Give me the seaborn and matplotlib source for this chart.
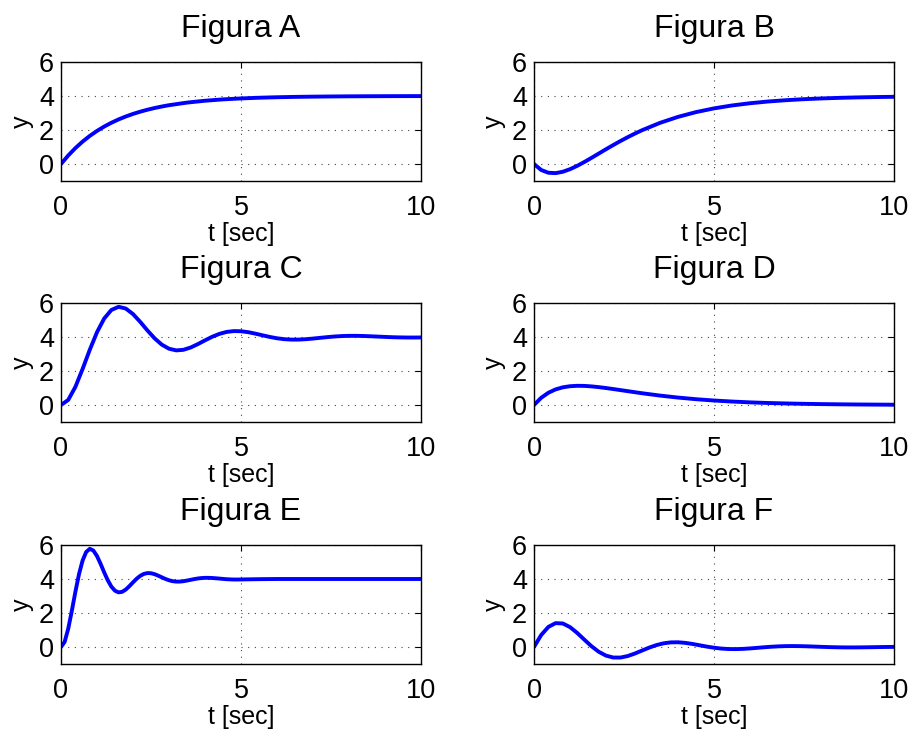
import numpy as np
import pandas as pd
import matplotlib
matplotlib.use('Agg')
import matplotlib.pyplot as plt
import seaborn as sns

# time grids (s)
t_slow = [0.0, 0.2, 0.4, 0.6, 0.8, 1.0, 1.2, 1.4, 1.6, 1.8, 2.0, 2.2, 2.4, 2.6, 2.8, 3.0,
          3.5, 4.0, 4.5, 5.0, 5.5, 6.0, 6.5, 7.0, 7.5, 8.0, 8.5, 9.0, 9.5, 10.0]
t_osc = [round(0.2 * k, 1) for k in range(51)]
t_fast = [round(0.1 * k, 1) for k in range(51)] + [5.5, 6.0, 6.5, 7.0, 7.5, 8.0, 8.5, 9.0, 9.5, 10.0]

# values
y_a = [0.0, 0.499, 0.936, 1.319, 1.654, 1.946, 2.203, 2.427, 2.623, 2.795, 2.946, 3.077,
       3.192, 3.293, 3.381, 3.459, 3.612, 3.722, 3.801, 3.857, 3.898, 3.927, 3.948, 3.962,
       3.973, 3.981, 3.986, 3.990, 3.993, 3.995]
y_b = [0.0, -0.353, -0.515, -0.536, -0.456, -0.306, -0.108, 0.120, 0.365, 0.616, 0.868,
       1.113, 1.350, 1.574, 1.787, 1.985, 2.420, 2.772, 3.052, 3.272, 3.443, 3.574, 3.676,
       3.753, 3.813, 3.858, 3.892, 3.918, 3.938, 3.953]
y_c = [0.0, 0.296, 1.068, 2.120, 3.250, 4.283, 5.088, 5.591, 5.776, 5.673, 5.349, 4.891,
       4.388, 3.921, 3.550, 3.311, 3.213, 3.246, 3.381, 3.580, 3.803, 4.014, 4.184, 4.298,
       4.348, 4.339, 4.284, 4.197, 4.099, 4.004, 3.925, 3.872, 3.847, 3.848, 3.870, 3.908,
       3.951, 3.994, 4.030, 4.055, 4.068, 4.068, 4.059, 4.043, 4.024, 4.005, 3.988, 3.977,
       3.970, 3.969, 3.973]
y_d = [0.0, 0.425, 0.721, 0.918, 1.040, 1.105, 1.129, 1.123, 1.094, 1.051, 0.998, 0.939,
       0.877, 0.815, 0.753, 0.692, 0.554, 0.437, 0.341, 0.264, 0.203, 0.155, 0.119, 0.091,
       0.069, 0.052, 0.040, 0.030, 0.023, 0.017]
y_e = [0.0, 0.296, 1.068, 2.120, 3.250, 4.283, 5.088, 5.591, 5.776, 5.673, 5.349, 4.891,
       4.388, 3.921, 3.550, 3.311, 3.213, 3.246, 3.381, 3.580, 3.803, 4.014, 4.184, 4.298,
       4.348, 4.339, 4.284, 4.197, 4.099, 4.004, 3.925, 3.872, 3.847, 3.848, 3.870, 3.908,
       3.951, 3.994, 4.030, 4.055, 4.068, 4.068, 4.059, 4.043, 4.024, 4.005, 3.988, 3.977,
       3.970, 3.969, 3.973, 3.99, 4.0, 4.0, 4.0, 4.0, 4.0, 4.0, 4.0, 4.0, 4.0]
y_f = [0.0, 0.706, 1.183, 1.404, 1.384, 1.170, 0.827, 0.428, 0.040, -0.283, -0.508, -0.619,
       -0.621, -0.534, -0.386, -0.210, -0.036, 0.112, 0.217, 0.272, 0.278, 0.243, 0.180,
       0.102, 0.024, -0.043, -0.092, -0.119, -0.124, -0.111, -0.084, -0.049, -0.014, 0.016,
       0.039, 0.052, 0.055, 0.050, 0.039, 0.024, 0.008, -0.006, -0.016, -0.023, -0.025,
       -0.023, -0.018, -0.011, -0.004, 0.002, 0.007]

panels = [
    ('Figura A', t_slow, y_a), ('Figura B', t_slow, y_b),
    ('Figura C', t_osc, y_c), ('Figura D', t_slow, y_d),
    ('Figura E', t_fast, y_e), ('Figura F', t_osc, y_f),
]

sns.set_style('white')
plt.rcParams['font.family'] = ['Liberation Sans', 'DejaVu Sans']
plt.rcParams['text.color'] = 'black'
plt.rcParams['axes.labelcolor'] = 'black'
plt.rcParams['xtick.color'] = 'black'
plt.rcParams['ytick.color'] = 'black'

fig = plt.figure(figsize=(9.15, 7.31), dpi=100)
W, H = 915.0, 731.0
lefts = [61, 534]
tops = [62, 303, 545]
aw, ah = 360, 119

for i, (title, t, y) in enumerate(panels):
    r, c = divmod(i, 2)
    ax = fig.add_axes([lefts[c] / W, 1 - (tops[r] + ah) / H, aw / W, ah / H])
    df = pd.DataFrame({'t': t, 'y': y})
    sns.lineplot(data=df, x='t', y='y', ax=ax, color='#0000ff', linewidth=2.8)
    ax.set_xlim(0, 10)
    ax.set_ylim(-1, 6)
    ax.set_xticks([0, 5, 10])
    ax.set_yticks([0, 2, 4, 6])
    ax.grid(True, color='#444444', linestyle=(0, (1, 5)), linewidth=0.8)
    ax.tick_params(direction='in', top=True, right=True, length=4, width=0.8,
                   labelsize=19.5, color='black', labelcolor='black')
    ax.tick_params(axis='x', pad=10)
    ax.tick_params(axis='y', pad=5)
    for s in ax.spines.values():
        s.set_color('black')
        s.set_linewidth(1.0)
    ax.set_title(title, fontsize=23, pad=18, color='black')
    ax.set_xlabel('t [sec]', fontsize=18, labelpad=1, color='black')
    ax.set_ylabel('y', fontsize=18, labelpad=4, color='black')

plt.savefig('out.png', dpi=100, facecolor='w')
